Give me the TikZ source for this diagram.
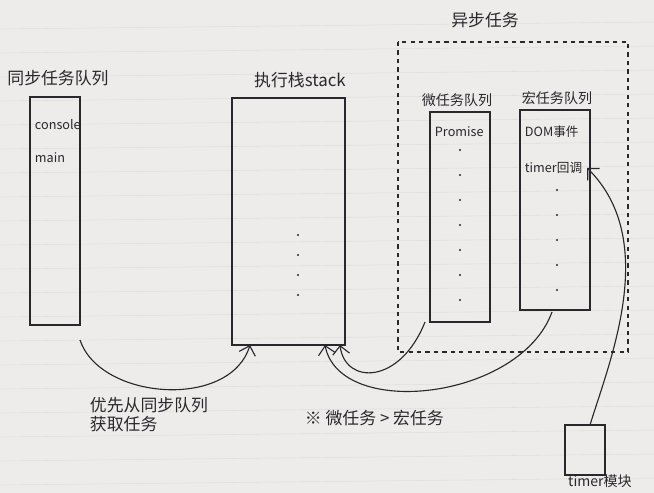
\documentclass[tikz,border=0pt]{standalone}
\usepackage{fontspec}
\setmainfont{Noto Sans CJK SC}
\usepackage{tikz}
\usetikzlibrary{calc,arrows.meta}
\definecolor{paper}{RGB}{238,236,234}
\definecolor{ink}{RGB}{40,40,45}
\tikzset{
  queue/.style={draw=ink, thick},
  caption/.style={text=ink, font=\large},
  item/.style={text=ink, font=\small, anchor=west},
  flow/.style={draw=ink, thick, -{Straight Barb[length=6pt]}}
}
\begin{document}
\begin{tikzpicture}[x=0.025cm,y=-0.025cm]
	\useasboundingbox (0,0) rectangle (654,493);
	\fill[paper] (0,0) rectangle (654,493);
	\foreach \row in {1,...,20}
	{
		\draw[gray!25] (0,\row*24+5) -- (654,\row*24-2);
	}
	% sync queue
	\draw[queue] (30,97) rectangle (80,325);
	\node[caption] (syncLabel) at (58,78) {同步任务队列};
	\node[item] (console) at (30,125) {console};
	\node[item] (main) at (30,158) {main};
	\coordinate (syncOut) at (80,340);
	% stack
	\draw[queue] (232,98) rectangle (345,345);
	\node[caption] (stackLabel) at (300,80) {执行栈stack};
	\foreach \dot in {235,255,...,295}
	{
		\fill[ink] (298,\dot) circle (1.2);
	}
	\coordinate (stackInA) at (250,345);
	\coordinate (stackInB) at (325,345);
	\coordinate (stackInC) at (340,345);
	% async
	\draw[ink, thick, dashed] (398,42) rectangle (628,352);
	\node[caption] (asyncLabel) at (485,20) {异步任务};
	\draw[queue] (430,112) rectangle (490,322);
	\node[caption, font=\normalsize] (microLabel) at (457,100) {微任务队列};
	\node[item] (promise) at (430,132) {Promise};
	\draw[queue] (520,110) rectangle (590,310);
	\node[caption, font=\normalsize] (macroLabel) at (557,98) {宏任务队列};
	\node[item] (domEvent) at (520,132) {DOM事件};
	\node[item] (timerCb) at (520,168) {timer回调};
	\foreach \dot in {150,175,...,300}
	{
		\fill[ink] (460,\dot) circle (1.2);
	}
	\foreach \dot in {190,215,...,290}
	{
		\fill[ink] (557,\dot) circle (1.2);
	}
	\coordinate (microOut) at (425,322);
	\coordinate (macroOut) at (552,312);
	% timer module
	\draw[queue] (565,425) rectangle (605,475);
	\node[caption, font=\normalsize, anchor=north] (timerLabel) at (600,470) {timer模块};
	\coordinate (timerOut) at (590,425);
	% arrows
	\draw[flow] (syncOut) .. controls (100,400) and (230,410) .. (stackInA);
	\draw[flow] (microOut) .. controls (400,385) and (345,385) .. (stackInC);
	\draw[flow] (macroOut) .. controls (520,400) and (340,420) .. (stackInB);
	\draw[flow] (timerOut) .. controls (610,360) and (660,240) .. (timerCb.east);
	\node[caption, align=left, anchor=north west] (priority) at (85,392) {优先从同步队列\\获取任务};
	\node[caption, anchor=west] (rule) at (300,418) {※ 微任务 > 宏任务};
\end{tikzpicture}
\end{document}
